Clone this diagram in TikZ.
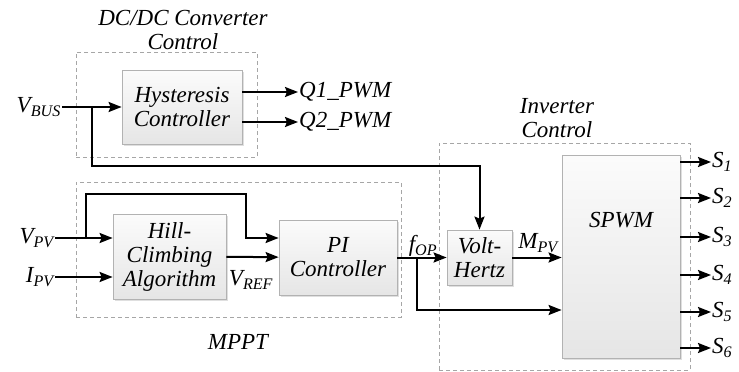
\documentclass[tikz,border=0pt]{standalone}
\usepackage{fontspec}
\setmainfont{Liberation Serif}
\usetikzlibrary{arrows.meta,positioning,fit,shadows}
\tikzset{
  block/.style={
    rectangle,draw=gray!60,line width=0.8pt,
    top color=gray!3,bottom color=gray!20,align=center,inner sep=2pt,
    drop shadow={shadow xshift=1.5pt,shadow yshift=-1.5pt,opacity=0.25}
  },
  frame/.style={draw=gray!70,line width=0.8pt,dash pattern=on 4pt off 3pt,inner sep=0pt},
  arrow/.style={-{Stealth[length=13pt,width=10pt,inset=2pt]},line width=2pt,draw=black},
  sig/.style={inner sep=1pt}
}

\begin{document}
\begin{tikzpicture}[
    x=1pt,y=-1pt,every node/.style={font=\fontsize{23}{24}\selectfont\itshape}
  ]
    \useasboundingbox (0,0) rectangle (739,372);

    % dashed group frames
    \node[frame,fit={(76,52) (257,157)}] (dcbox) {};
    \node[frame,fit={(76,182) (401,317)}] (mpptbox) {};
    \node[frame,fit={(439,143) (690,370)}] (invbox) {};
    \node[align=center] (dctitle) at (183,30) {DC/DC Converter\\Control};
    \node (mpptlbl) at (238,342) {MPPT};
    \node[align=center] (invtitle) at (557,118) {Inverter\\Control};

    % blocks
    \node[block,minimum width=120pt,minimum height=74pt] (hyst) at (182,107)
      {Hysteresis\\Controller};
    \node[block,minimum width=113pt,minimum height=85pt] (hill) at (169.5,256.5)
      {Hill-\\Climbing\\Algorithm};
    \node[block,minimum width=118pt,minimum height=75pt] (pi) at (338,257.5)
      {PI\\Controller};
    \node[block,minimum width=65pt,minimum height=55pt] (vh) at (479.5,257.5)
      {Volt-\\Hertz};
    \node[block,minimum width=118pt,minimum height=203pt] (spwm) at (621,256.5) {};
    \node (spwmlbl) at ([yshift=-65pt]spwm.north) {SPWM};

    % signal labels
    \node[sig,anchor=east] (vbus) at (62,107) {V\textsubscript{BUS}};
    \node[sig,anchor=east] (vpv) at (55,238) {V\textsubscript{PV}};
    \node[sig,anchor=east] (ipv) at (55,277) {I\textsubscript{PV}};
    \node[sig] (vref) at (251,280) {V\textsubscript{REF}};
    \node[sig] (fop) at (423,246) {f\textsubscript{OP}};
    \node[sig] (mpv) at (538,243) {M\textsubscript{PV}};

    % DC/DC converter control
    \coordinate (busjoin) at (92,107);
    \coordinate (busturn) at (92,166);
    \draw[arrow] (vbus) -- (hyst);
    \draw[arrow] (busjoin) -- (busturn) -| (vh.north);
    \coordinate (q1out) at (298,92);
    \coordinate (q2out) at (298,122);
    \draw[arrow] (q1out -| hyst.east) -- (q1out);
    \draw[arrow] (q2out -| hyst.east) -- (q2out);
    \node[sig,anchor=west] (q1) at (q1out) {Q1\_PWM};
    \node[sig,anchor=west] (q2) at (q2out) {Q2\_PWM};

    % MPPT
    \coordinate (pvjoin) at (86,238);
    \coordinate (pvtop) at (86,194);
    \coordinate (pvdrop) at (246,194);
    \draw[arrow] (vpv) -- (vpv -| hill.west);
    \draw[arrow] (pvjoin) -- (pvtop) -- (pvdrop) |- (vpv -| pi.west);
    \draw[arrow] (ipv) -- (ipv -| hill.west);
    \draw[arrow] (hill) -- (pi);

    % inverter control
    \coordinate (fopjoin) at (417,257.5);
    \draw[arrow] (pi) -- (vh);
    \draw[arrow] (fopjoin) |- ([yshift=-53.5pt]spwm.west);
    \draw[arrow] (vh.east) -- (vh.east -| spwm.west);
    \foreach \i/\y in {1/162,2/198,3/237,4/275,5/312,6/348}{
      \coordinate (sout\i) at (711,\y);
      \draw[arrow] (sout\i -| spwm.east) -- (sout\i);
      \node[sig,anchor=west] (s\i) at (sout\i) {S\textsubscript{\i}};
    }
  \end{tikzpicture}
\end{document}
